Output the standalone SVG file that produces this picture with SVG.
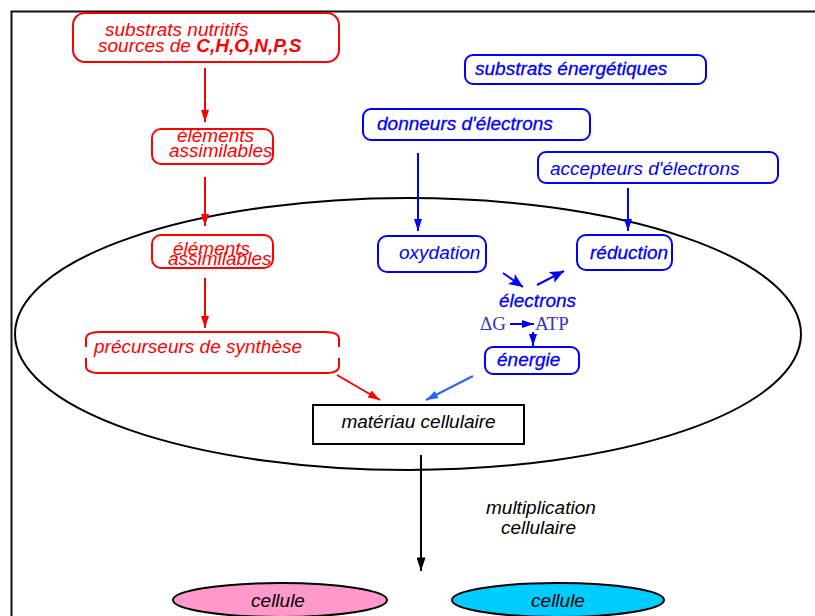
<svg xmlns="http://www.w3.org/2000/svg" width="815" height="616" viewBox="0 0 815 616">
<style>
.t{font-family:"Liberation Sans",Arial,sans-serif;font-style:italic;font-size:19px}
.r{fill:#f00}
.b{fill:#00f}
.k{fill:#000}
.hv{stroke:#00f;stroke-width:0.3}
.rbox{fill:none;stroke:#f00;stroke-width:2}
.bbox{fill:none;stroke:#00f;stroke-width:2}
.rl{stroke:#f00;stroke-width:2;fill:none}
.bl{stroke:#00f;stroke-width:2;fill:none}
.serif{font-family:"Liberation Serif","Times New Roman",serif;font-size:19px;fill:#3434c8}
</style>
<defs>
<marker id="mr" viewBox="0 0 12 8" refX="12" refY="4" markerWidth="12" markerHeight="8" markerUnits="userSpaceOnUse" orient="auto"><path d="M0,0 L12,4 L0,8 z" fill="#f00"/></marker>
<marker id="mb" viewBox="0 0 12 8" refX="12" refY="4" markerWidth="12" markerHeight="8" markerUnits="userSpaceOnUse" orient="auto"><path d="M0,0 L12,4 L0,8 z" fill="#00f"/></marker>
<marker id="mbf" viewBox="0 0 14 12" refX="14" refY="6" markerWidth="14" markerHeight="12" markerUnits="userSpaceOnUse" orient="auto"><path d="M0,0 L14,6 L0,12 L3,6 z" fill="#00f"/></marker>
<marker id="mlb" viewBox="0 0 12 8" refX="12" refY="4" markerWidth="12" markerHeight="8" markerUnits="userSpaceOnUse" orient="auto"><path d="M0,0 L12,4 L0,8 z" fill="#2a62ff"/></marker>
<marker id="mk" viewBox="0 0 12 8" refX="12" refY="4" markerWidth="14" markerHeight="9" markerUnits="userSpaceOnUse" orient="auto"><path d="M0,0 L12,4 L0,8 z" fill="#000"/></marker>
</defs>
<rect width="815" height="616" fill="#fff"/>
<path d="M11.5,616 V11.5 H815" fill="none" stroke="#111" stroke-width="2"/>
<g id="cell">
<ellipse cx="408" cy="334" rx="393" ry="136" fill="none" stroke="#000" stroke-width="2"/>
</g>
<g id="connectors">
<line class="rl" x1="205" y1="68" x2="205" y2="122" marker-end="url(#mr)"/>
<line class="rl" x1="205" y1="177" x2="205" y2="226" marker-end="url(#mr)"/>
<line class="rl" x1="205" y1="278" x2="205" y2="328" marker-end="url(#mr)"/>
<line class="rl" x1="337" y1="375" x2="380" y2="400" marker-end="url(#mr)"/>
<line class="bl" x1="418" y1="153" x2="418" y2="231" marker-end="url(#mb)"/>
<line class="bl" x1="628" y1="188" x2="628" y2="231" marker-end="url(#mb)"/>
<line x1="473" y1="376" x2="426" y2="400" stroke="#2a62ff" stroke-width="2" marker-end="url(#mlb)"/>
<line class="bl" x1="503" y1="273" x2="523" y2="287" marker-end="url(#mbf)"/>
<line class="bl" x1="537" y1="285" x2="564" y2="271" marker-end="url(#mbf)"/>
<line class="bl" x1="510" y1="324" x2="534" y2="324" marker-end="url(#mb)"/>
<line class="bl" x1="533" y1="332" x2="533" y2="346" marker-end="url(#mb)"/>
<line x1="421" y1="455" x2="421" y2="571" stroke="#000" stroke-width="2" marker-end="url(#mk)"/>
</g>
<g id="substrats-nutritifs">
<rect class="rbox" x="73" y="13" width="266" height="49" rx="12"/>
<text class="t r" x="105" y="36">substrats nutritifs</text>
<text class="t r" x="98" y="52">sources de <tspan font-weight="bold">C,H,O,N,P,S</tspan></text>
</g>
<g id="elements-assimilables-1">
<rect class="rbox" x="152" y="129" width="121" height="35" rx="9"/>
<text class="t r" x="177" y="142">éléments</text>
<text class="t r" x="169" y="157">assimilables</text>
</g>
<g id="elements-assimilables-2">
<rect class="rbox" x="152" y="235" width="121" height="33" rx="9"/>
<text class="t r" x="173" y="255">éléments</text>
<text class="t r" x="168" y="265">assimilables</text>
</g>
<g id="precurseurs">
<path class="rbox" d="M86,347 V339 Q86,332 100,332 H325 Q339,332 339,339 V347"/>
<path class="rbox" d="M86,358 V366 Q86,373 100,373 H325 Q339,373 339,366 V358"/>
<text class="t r" x="94" y="353">précurseurs de synthèse</text>
</g>
<g id="substrats-energetiques">
<rect class="bbox" x="465" y="55" width="241" height="29" rx="8"/>
<text class="t b hv" x="475" y="75">substrats énergétiques</text>
</g>
<g id="donneurs">
<rect class="bbox" x="363" y="109" width="227" height="31" rx="8"/>
<text class="t b hv" x="377" y="130">donneurs d'électrons</text>
</g>
<g id="accepteurs">
<rect class="bbox" x="538" y="152" width="240" height="31" rx="8"/>
<text class="t b" x="550" y="175">accepteurs d'électrons</text>
</g>
<g id="oxydation">
<rect class="bbox" x="378" y="236" width="108" height="36" rx="9"/>
<text class="t b" x="399" y="259">oxydation</text>
</g>
<g id="reduction">
<rect class="bbox" x="577" y="235" width="95" height="35" rx="9"/>
<text class="t b hv" x="590" y="259">réduction</text>
</g>
<g id="electrons">
<text class="t b hv" x="499" y="307">électrons</text>
</g>
<g id="dg-atp">
<text class="serif" x="480" y="330">ΔG</text>
<text class="serif" x="535" y="330">ATP</text>
</g>
<g id="energie">
<rect class="bbox" x="485" y="347" width="94" height="27" rx="8"/>
<text class="t b hv" x="497" y="366">énergie</text>
</g>
<g id="materiau">
<rect x="313" y="405" width="211" height="39" fill="#fff" stroke="#000" stroke-width="2"/>
<text class="t k" x="418.5" y="428" text-anchor="middle">matériau cellulaire</text>
</g>
<g id="multiplication">
<text class="t k" x="486" y="514">multiplication</text>
<text class="t k" x="501" y="534">cellulaire</text>
</g>
<g id="cellule-1">
<ellipse cx="280" cy="600" rx="107" ry="17" fill="#ff99cc" stroke="#000" stroke-width="2"/>
<text class="t k" x="278" y="607" text-anchor="middle">cellule</text>
</g>
<g id="cellule-2">
<ellipse cx="558" cy="600" rx="106" ry="17" fill="#00ccff" stroke="#000" stroke-width="2"/>
<text class="t k" x="558" y="607" text-anchor="middle">cellule</text>
</g>
</svg>
